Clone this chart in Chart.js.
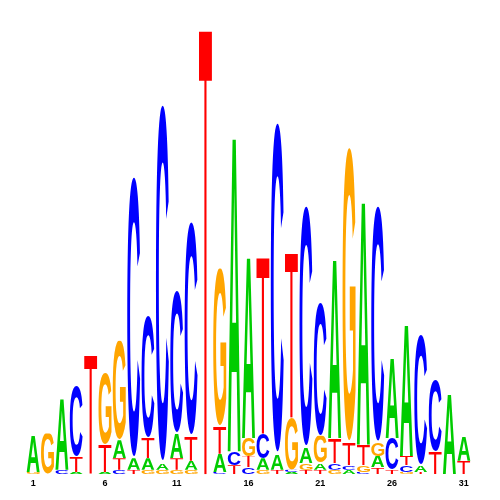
<!DOCTYPE html>
<html>
<head>
<meta charset="utf-8">
<script src="https://cdn.jsdelivr.net/npm/chart.js@4"></script>
<style>
  html, body { margin: 0; padding: 0; background: #fff; }
  #wrap { width: 500px; height: 500px; }
</style>
</head>
<body>
<div id="wrap"><canvas id="logoChart" width="500" height="500"></canvas></div>
<script>
// positions along the motif
const positions = ['1','2','3','4','5','6','7','8','9','10','11','12','13','14','15','16',
  '17','18','19','20','21','22','23','24','25','26','27','28','29','30','31'];

// letter heights in bits
const aBits = [0.16,0,0.32,0.01,0,0.01,0.08,0.05,0.05,0.03,0.11,0.04,0,0.08,1.41,0.81,
  0.05,0.07,0.01,0.07,0.03,0.80,0.02,1.09,0.05,0.36,0.59,0.03,0,0.36,0.11];
const cBits = [0,0,0.02,0.31,0,0,0.02,1.25,0.54,1.59,0.63,0.95,0,0.01,0.06,0.03,
  0.11,1.47,0.01,1.07,0.59,0.03,0.02,0.01,1.05,0.14,0.03,0.58,0.32,0,0];
const gBits = [0.01,0.18,0,0,0,0.32,0.44,0,0.02,0.02,0.02,0.02,0,0.70,0,0.08,
  0.02,0,0.23,0.03,0.12,0.02,1.31,0.03,0.06,0,0.01,0,0,0,0];
const tBits = [0,0,0,0.07,0.53,0.12,0.05,0.02,0.09,0,0.05,0.11,2.0,0.12,0.04,0.05,
  0.79,0.02,0.74,0.02,0.02,0.11,0.10,0.09,0.03,0.02,0.04,0.01,0.10,0,0.06];

const letters = ['A','C','G','T'];
const letterColors = ['#00cc00','#0000ff','#ffa500','#ff0000'];
const letterWeights = ['bold','bold','bold','normal'];
const bits = [aBits, cBits, gBits, tBits];

// stack each column: smallest letter at the bottom, biggest on top
const ranges = letters.map(() => []);
positions.forEach((p, i) => {
  const order = [0,1,2,3].sort((a, b) => bits[a][i] - bits[b][i]);
  let base = 0;
  order.forEach(k => {
    ranges[k][i] = [base, base + bits[k][i]];
    base += bits[k][i];
  });
});

// draws each letter stretched into its bar's box
const glyphPlugin = {
  id: 'glyphs',
  afterDatasetsDraw(chart) {
    const ctx = chart.ctx;
    chart.data.datasets.forEach((ds, di) => {
      const meta = chart.getDatasetMeta(di);
      ctx.save();
      ctx.font = letterWeights[di] + ' 400px "Liberation Sans", Arial, sans-serif';
      ctx.fillStyle = letterColors[di];
      ctx.textBaseline = 'alphabetic';
      ctx.textAlign = 'left';
      const m = ctx.measureText(ds.label);
      const gw = m.actualBoundingBoxLeft + m.actualBoundingBoxRight;
      const gh = m.actualBoundingBoxAscent + m.actualBoundingBoxDescent;
      meta.data.forEach(bar => {
        const p = bar.getProps(['x','y','base','width'], true);
        const top = Math.min(p.y, p.base);
        const h = Math.abs(p.base - p.y);
        if (h < 0.5) return;
        ctx.save();
        ctx.beginPath();
        ctx.rect(p.x - p.width / 2 - 1, top, p.width + 2, h);
        ctx.clip();
        ctx.translate(p.x - p.width / 2, top);
        ctx.scale(p.width / gw, h / gh);
        ctx.fillText(ds.label, m.actualBoundingBoxLeft, m.actualBoundingBoxAscent);
        ctx.restore();
      });
      ctx.restore();
    });
  }
};

const ctx = document.getElementById('logoChart').getContext('2d');
new Chart(ctx, {
  type: 'bar',
  data: {
    labels: positions,
    datasets: letters.map((l, k) => ({
      label: l,
      data: ranges[k],
      backgroundColor: 'rgba(0,0,0,0)',
      borderWidth: 0,
      grouped: false,
      barPercentage: 0.92,
      categoryPercentage: 1
    }))
  },
  options: {
    responsive: false,
    animation: false,
    layout: { padding: { left: 26, right: 29, top: 22, bottom: 7 } },
    plugins: {
      legend: { display: false },
      tooltip: { enabled: false }
    },
    scales: {
      x: {
        grid: { display: false, drawTicks: false },
        border: { display: false },
        ticks: {
          autoSkip: false,
          maxRotation: 0,
          padding: 4,
          color: '#000',
          font: { family: '"Liberation Sans", Arial, sans-serif', size: 9, weight: 'bold' },
          callback: function(value, index) {
            return index % 5 === 0 ? this.getLabelForValue(value) : '';
          }
        }
      },
      y: { display: false, min: 0, max: 2 }
    }
  },
  plugins: [glyphPlugin]
});
</script>
</body>
</html>
